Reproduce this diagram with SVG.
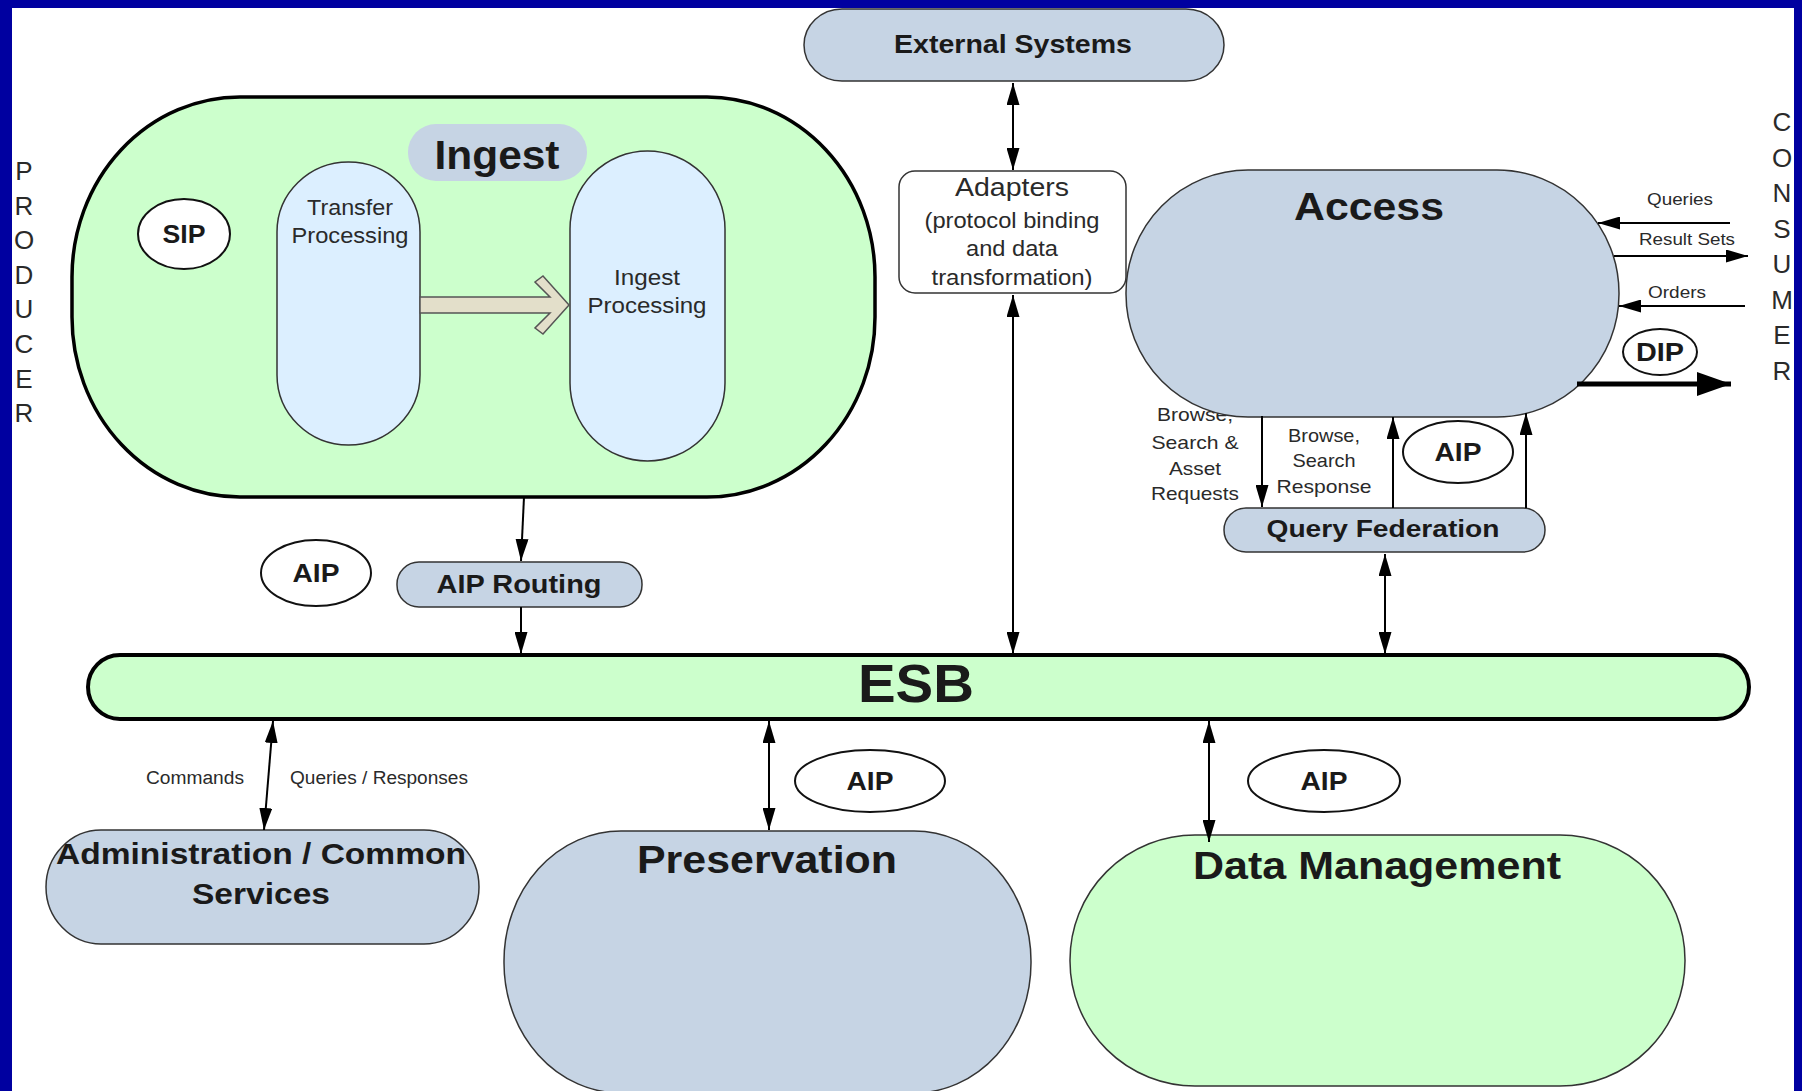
<svg xmlns="http://www.w3.org/2000/svg" width="1802" height="1091" viewBox="0 0 1802 1091">
<style>
.b{font-family:"Liberation Sans",Arial,sans-serif;font-weight:bold;fill:#1a1a1a;text-anchor:middle}
.r{font-family:"Liberation Sans",Arial,sans-serif;fill:#2a2a2a;text-anchor:middle}
.gb{fill:#c6d4e4;stroke:#333;stroke-width:1.5}
.gr{fill:#ccffcc;stroke:#333;stroke-width:1.5}
.lb{fill:#dcefff;stroke:#333;stroke-width:1.5}
.ov{fill:#fff;stroke:#111;stroke-width:2}
.ln{stroke:#000;stroke-width:2;fill:none}
</style>
<defs>
<marker id="ah" markerUnits="userSpaceOnUse" markerWidth="22" markerHeight="13" refX="22" refY="6.5" orient="auto-start-reverse">
<path d="M0,0 L22,6.5 L0,13 z" fill="#000"/>
</marker>
<marker id="ahb" markerUnits="userSpaceOnUse" markerWidth="34" markerHeight="24" refX="34" refY="12" orient="auto">
<path d="M0,0 L34,12 L0,24 z" fill="#000"/>
</marker>
</defs>
<rect x="0" y="0" width="1802" height="1091" fill="#0000a0"/>
<rect x="12" y="8" width="1782" height="1083" fill="#fff"/>

<g id="producer" class="r" font-size="26">
<text x="24" y="180">P</text><text x="24" y="214.6">R</text><text x="24" y="249.2">O</text><text x="24" y="283.8">D</text><text x="24" y="318.4">U</text><text x="24" y="353">C</text><text x="24" y="387.6">E</text><text x="24" y="422">R</text>
</g>
<g id="consumer" class="r" font-size="26">
<text x="1782" y="131">C</text><text x="1782" y="166.5">O</text><text x="1782" y="202">N</text><text x="1782" y="237.5">S</text><text x="1782" y="273">U</text><text x="1782" y="308.5">M</text><text x="1782" y="344">E</text><text x="1782" y="379.5">R</text>
</g>

<g id="ingest">
<rect x="72" y="97" width="803" height="400" rx="168" ry="180" fill="#ccffcc" stroke="#000" stroke-width="3.5"/>
<rect x="408" y="124" width="179" height="57" rx="28" fill="#c6d4e4"/>
<text class="b" x="497" y="169" font-size="40" textLength="125" lengthAdjust="spacingAndGlyphs">Ingest</text>
</g>
<g id="sip">
<ellipse class="ov" cx="184" cy="234" rx="46" ry="35"/>
<text class="b" x="184" y="243" font-size="26" textLength="43" lengthAdjust="spacingAndGlyphs">SIP</text>
</g>
<g id="transfer-processing">
<rect class="lb" x="277" y="162" width="143" height="283" rx="71.5" ry="70"/>
<text class="r" x="350" y="215" font-size="22" textLength="86" lengthAdjust="spacingAndGlyphs">Transfer</text>
<text class="r" x="350" y="243" font-size="22" textLength="117" lengthAdjust="spacingAndGlyphs">Processing</text>
</g>
<g id="ingest-processing">
<rect class="lb" x="570" y="151" width="155" height="310" rx="77.5" ry="78"/>
<text class="r" x="647" y="285" font-size="22" textLength="66" lengthAdjust="spacingAndGlyphs">Ingest</text>
<text class="r" x="647" y="313" font-size="22" textLength="119" lengthAdjust="spacingAndGlyphs">Processing</text>
</g>
<g id="block-arrow">
<polygon points="420,297 550,297 535,282 543,276 569,305 543,334 535,328 550,313 420,313" fill="#e3dfca" stroke="#555" stroke-width="1.5"/>
</g>

<g id="external-systems">
<rect class="gb" x="804" y="9" width="420" height="72" rx="38" ry="36"/>
<text class="b" x="1013" y="53" font-size="26" textLength="238" lengthAdjust="spacingAndGlyphs">External Systems</text>
</g>
<g id="adapters">
<rect x="899" y="171" width="227" height="122" rx="16" fill="#fff" stroke="#333" stroke-width="1.5"/>
<text class="r" x="1012" y="196" font-size="25" textLength="114" lengthAdjust="spacingAndGlyphs">Adapters</text>
<text class="r" x="1012" y="228" font-size="22" textLength="175" lengthAdjust="spacingAndGlyphs">(protocol binding</text>
<text class="r" x="1012" y="256" font-size="22" textLength="92" lengthAdjust="spacingAndGlyphs">and data</text>
<text class="r" x="1012" y="285" font-size="22" textLength="161" lengthAdjust="spacingAndGlyphs">transformation)</text>
</g>

<g id="labels" class="r">
<text x="1680" y="205" font-size="17" textLength="66" lengthAdjust="spacingAndGlyphs">Queries</text>
<text x="1687" y="245" font-size="17" textLength="96" lengthAdjust="spacingAndGlyphs">Result Sets</text>
<text x="1677" y="298" font-size="17" textLength="58" lengthAdjust="spacingAndGlyphs">Orders</text>
<text x="1195" y="421" font-size="19" textLength="76" lengthAdjust="spacingAndGlyphs">Browse,</text>
<text x="1195" y="449" font-size="19" textLength="87" lengthAdjust="spacingAndGlyphs">Search &amp;</text>
<text x="1195" y="475" font-size="19" textLength="52" lengthAdjust="spacingAndGlyphs">Asset</text>
<text x="1195" y="500" font-size="19" textLength="88" lengthAdjust="spacingAndGlyphs">Requests</text>
<text x="1324" y="442" font-size="19" textLength="72" lengthAdjust="spacingAndGlyphs">Browse,</text>
<text x="1324" y="467" font-size="19" textLength="63" lengthAdjust="spacingAndGlyphs">Search</text>
<text x="1324" y="493" font-size="19" textLength="95" lengthAdjust="spacingAndGlyphs">Response</text>
<text x="195" y="784" font-size="18" textLength="98" lengthAdjust="spacingAndGlyphs">Commands</text>
<text x="379" y="784" font-size="18" textLength="178" lengthAdjust="spacingAndGlyphs">Queries / Responses</text>
</g>

<g id="access">
<rect class="gb" x="1126" y="170" width="493" height="247" rx="122" ry="123"/>
<text class="b" x="1369" y="220" font-size="38" textLength="150" lengthAdjust="spacingAndGlyphs">Access</text>
</g>
<g id="dip">
<ellipse class="ov" cx="1660" cy="352" rx="37" ry="23"/>
<text class="b" x="1660" y="361" font-size="25" textLength="48" lengthAdjust="spacingAndGlyphs">DIP</text>
</g>
<g id="aip-access">
<ellipse class="ov" cx="1458" cy="452" rx="55" ry="31"/>
<text class="b" x="1458" y="461" font-size="26" textLength="47" lengthAdjust="spacingAndGlyphs">AIP</text>
</g>
<g id="query-federation">
<rect class="gb" x="1224" y="508" width="321" height="44" rx="22"/>
<text class="b" x="1383" y="537" font-size="24" textLength="233" lengthAdjust="spacingAndGlyphs">Query Federation</text>
</g>

<g id="aip-ingest">
<ellipse class="ov" cx="316" cy="573" rx="55" ry="33"/>
<text class="b" x="316" y="582" font-size="26" textLength="47" lengthAdjust="spacingAndGlyphs">AIP</text>
</g>
<g id="aip-routing">
<rect class="gb" x="397" y="562" width="245" height="45" rx="22"/>
<text class="b" x="519" y="593" font-size="26" textLength="165" lengthAdjust="spacingAndGlyphs">AIP Routing</text>
</g>

<g id="esb">
<rect x="88" y="655" width="1661" height="64" rx="32" fill="#ccffcc" stroke="#000" stroke-width="4"/>
<text class="b" x="916" y="702" font-size="54" textLength="116" lengthAdjust="spacingAndGlyphs">ESB</text>
</g>

<g id="administration">
<rect class="gb" x="46" y="830" width="433" height="114" rx="55" ry="57"/>
<text class="b" x="261" y="864" font-size="30" textLength="410" lengthAdjust="spacingAndGlyphs">Administration / Common</text>
<text class="b" x="261" y="904" font-size="30" textLength="138" lengthAdjust="spacingAndGlyphs">Services</text>
</g>
<g id="aip-preservation">
<ellipse class="ov" cx="870" cy="781" rx="75" ry="31"/>
<text class="b" x="870" y="790" font-size="26" textLength="47" lengthAdjust="spacingAndGlyphs">AIP</text>
</g>
<g id="preservation">
<rect class="gb" x="504" y="831" width="527" height="262" rx="117" ry="130"/>
<text class="b" x="767" y="873" font-size="38" textLength="260" lengthAdjust="spacingAndGlyphs">Preservation</text>
</g>
<g id="aip-dm">
<ellipse class="ov" cx="1324" cy="781" rx="76" ry="31"/>
<text class="b" x="1324" y="790" font-size="26" textLength="47" lengthAdjust="spacingAndGlyphs">AIP</text>
</g>
<g id="data-management">
<rect class="gr" x="1070" y="835" width="615" height="251" rx="125" ry="125"/>
<text class="b" x="1377" y="879" font-size="38" textLength="368" lengthAdjust="spacingAndGlyphs">Data Management</text>
</g>

<g id="connectors">
<line class="ln" x1="1013" y1="83" x2="1013" y2="170" marker-start="url(#ah)" marker-end="url(#ah)"/>
<line class="ln" x1="1013" y1="295" x2="1013" y2="654" marker-start="url(#ah)" marker-end="url(#ah)"/>
<line class="ln" x1="1385" y1="554" x2="1385" y2="654" marker-start="url(#ah)" marker-end="url(#ah)"/>
<line class="ln" x1="1730" y1="223" x2="1598" y2="223" marker-end="url(#ah)"/>
<line class="ln" x1="1614" y1="256" x2="1748" y2="256" marker-end="url(#ah)"/>
<line class="ln" x1="1745" y1="306" x2="1619" y2="306" marker-end="url(#ah)"/>
<line x1="1577" y1="384" x2="1731" y2="384" stroke="#000" stroke-width="5" marker-end="url(#ahb)"/>
<line class="ln" x1="1262" y1="416" x2="1262" y2="507" marker-end="url(#ah)"/>
<line class="ln" x1="1393" y1="508" x2="1393" y2="417" marker-end="url(#ah)"/>
<line class="ln" x1="1526" y1="508" x2="1526" y2="413" marker-end="url(#ah)"/>
<line class="ln" x1="524" y1="497" x2="521" y2="561" marker-end="url(#ah)"/>
<line class="ln" x1="521" y1="607" x2="521" y2="654" marker-end="url(#ah)"/>
<line class="ln" x1="273" y1="721" x2="264" y2="830" marker-start="url(#ah)" marker-end="url(#ah)"/>
<line class="ln" x1="769" y1="721" x2="769" y2="830" marker-start="url(#ah)" marker-end="url(#ah)"/>
<line class="ln" x1="1209" y1="721" x2="1209" y2="842" marker-start="url(#ah)" marker-end="url(#ah)"/>
</g>
</svg>
